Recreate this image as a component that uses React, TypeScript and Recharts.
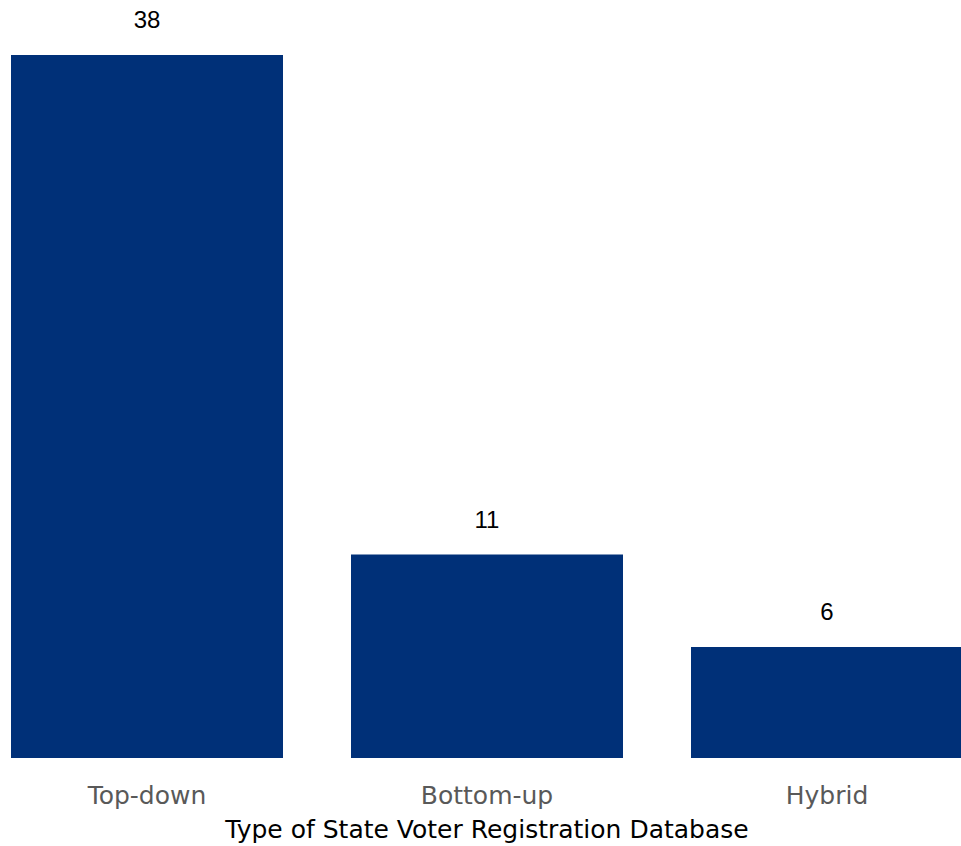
import { BarChart, Bar, XAxis, YAxis, LabelList } from "recharts";

const categories = ["Top-down", "Bottom-up", "Hybrid"];
const counts = [38, 11, 6];

const data = categories.map((name, i) => ({ name, count: counts[i] }));

const FONT = '"Liberation Sans", Arial, sans-serif';
const AXIS_FONT = '"DejaVu Sans", sans-serif';

const Tick = (props: any) => {
  const { x, y, payload } = props;
  return (
    <text x={x} y={y + 38} textAnchor="middle" fill="#595959" fontSize={25} fontFamily={AXIS_FONT}>
      {payload.value}
    </text>
  );
};

export default function App() {
  return (
    <div
      style={{
        position: "absolute",
        left: 0,
        top: 0,
        width: 961,
        height: 846,
        overflow: "hidden",
        background: "#fff",
      }}
    >
      <div style={{ position: "absolute", left: -23, top: 0 }}>
        <BarChart
          width={1020}
          height={846}
          data={data}
          margin={{ top: 55, right: 0, bottom: 0, left: 0 }}
          barCategoryGap="10%"
        >
          <XAxis
            dataKey="name"
            axisLine={false}
            tickLine={false}
            height={88}
            tick={<Tick />}
            interval={0}
            label={{
              value: "Type of State Voter Registration Database",
              position: "insideBottom",
              offset: 8,
              fill: "#000",
              fontSize: 25,
              fontFamily: AXIS_FONT,
            }}
          />
          <YAxis hide domain={[0, 38]} />
          <Bar dataKey="count" fill="#003078" isAnimationActive={false}>
            <LabelList
              dataKey="count"
              position="top"
              offset={27}
              fill="#000"
              fontSize={24}
              fontFamily={FONT}
            />
          </Bar>
        </BarChart>
      </div>
    </div>
  );
}
